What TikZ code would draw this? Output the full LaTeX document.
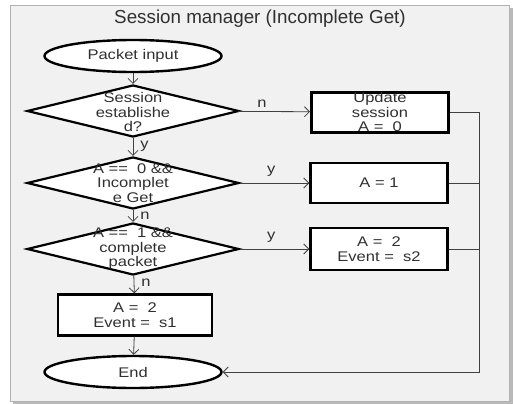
\documentclass[tikz,border=0pt]{standalone}
\usepackage{fontspec}
\setmainfont[FakeStretch=1.18]{Liberation Sans}
\newfontfamily\titlefamily{Liberation Sans}
\usetikzlibrary{shapes.geometric,arrows.meta}
\definecolor{framefill}{HTML}{F1F1F1}
\definecolor{txt}{HTML}{303030}
\begin{document}
\begin{tikzpicture}[x=1pt,y=-1pt,
  term/.style={ellipse, draw=black, line width=2.4pt, fill=white, minimum width=177pt, minimum height=32pt, inner sep=0pt, text=txt, font=\fontsize{14}{14.5}\selectfont},
  proc/.style={rectangle, draw=black, line width=2.4pt, fill=white, minimum width=137pt, minimum height=40pt, inner sep=0pt, align=center, text=txt, font=\fontsize{14}{14.5}\selectfont},
  dia/.style={diamond, draw=black, line width=2.2pt, fill=white, minimum width=212pt, minimum height=52pt, inner sep=0pt},
  diatext/.style={align=center, inner sep=0pt, text=txt, font=\fontsize{14}{14.5}\selectfont},
  lab/.style={inner sep=1pt, text=txt, font=\fontsize{14}{14}\selectfont},
  conn/.style={draw=black!75, line width=0.8pt, -{Straight Barb[length=5pt,width=10pt]}},
  wire/.style={draw=black!75, line width=0.8pt}
]
\useasboundingbox (0,0) rectangle (514,404);
% frame with shadow
\fill[gray!55] (13,8) rectangle (513,404);
\draw[fill=framefill, draw=gray!60, line width=0.6pt] (10,5) rectangle (509,401);
\node[text=txt, font=\titlefamily\fontsize{18.8}{20}\selectfont] (title) at (260,19) {Session manager (Incomplete Get)};

\node[term] (start) at (133,56) {Packet input};
\node[dia] (d1) at (133,111) {};
\node[diatext] (d1t) at (133,112) {Session\\establishe\\d?};
\node[proc, line width=3pt] (u1) at (380,112) {Update\\session\\A =\ \ 0};

\node[dia] (d2) at (133,183) {};
\node[diatext] (d2t) at (133,183) {A ==\ \ 0 \&\&\\Incomplet\\e Get};
\node[proc] (a1) at (379,183) {A = 1};

\node[dia] (d3) at (133,249) {};
\node[diatext] (d3t) at (133,249) {A ==\ \ 1 \&\&\\complete\\packet};
\node[proc, minimum height=42pt] (a2) at (379,249) {A =\ \ 2\\Event =\ \ s2};

\node[proc, minimum width=154pt, minimum height=41pt] (s1) at (135,315) {A =\ \ 2\\Event =\ \ s1};
\node[term] (end) at (133,372) {End};

\coordinate (bus) at (479,112);

\draw[conn] (start) -- (d1);
\draw[conn] (d1) -- node[lab, above=3pt, pos=0.33] {n} (u1);
\draw[conn] (d1) -- node[lab, right=6pt, pos=0.45] {y} (d2);
\draw[conn] (d2) -- node[lab, above=5pt, pos=0.45] {y} (a1);
\draw[conn] (d2) -- node[lab, right=6pt, pos=0.45] {n} (d3);
\draw[conn] (d3) -- node[lab, above=5pt, pos=0.45] {y} (a2);
\draw[conn] (d3) -- node[lab, right=6pt, pos=0.4] {n} (s1);
\draw[conn] (s1) -- (end);

\draw[wire] (a1.east) -- (a1.east -| bus);
\draw[wire] (a2.east) -- (a2.east -| bus);
\draw[conn] (u1.east) -- (bus) |- (end.east);
\end{tikzpicture}
\end{document}
